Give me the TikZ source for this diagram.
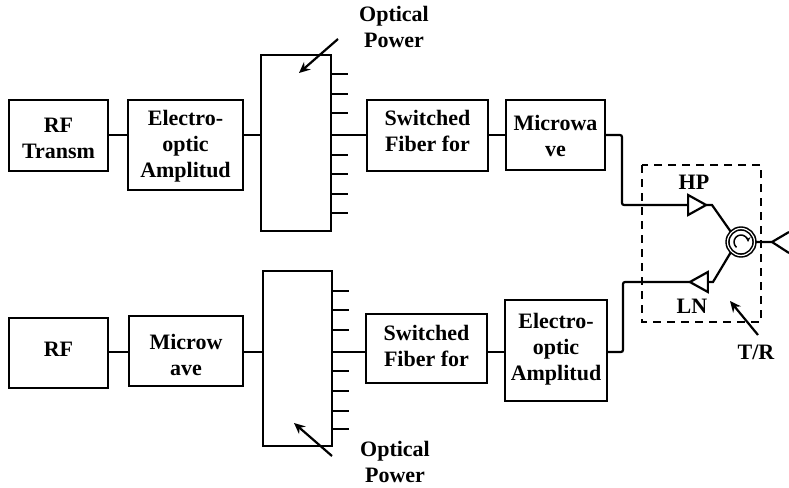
\documentclass[tikz,border=0pt]{standalone}
\usepackage{fontspec}
\setmainfont{Liberation Serif}
\usetikzlibrary{arrows.meta,positioning,shapes.geometric,calc}

\begin{document}
\begin{tikzpicture}[x=1pt,y=-1pt,line width=2.2pt,
    font=\fontsize{22}{26}\selectfont\bfseries,
    blockbox/.style={draw,inner sep=0pt},
    blocktext/.style={align=center,inner sep=0pt},
    ampbox/.style={draw,isosceles triangle,isosceles triangle stretches,inner sep=0pt,outer sep=0pt,minimum width=20pt,minimum height=18pt},
    tune/.style={-{Stealth[length=11pt,width=10pt]},line width=2.2pt}]
  \useasboundingbox (0,0) rectangle (789,487);
  \node[blockbox,minimum width=99pt,minimum height=71pt] (rftx) at (58.5,135.5) {}; \node[blocktext] (rftxtext) at (58.5,138.5) {RF\\Transm};
  \node[blockbox,minimum width=115pt,minimum height=90pt] (eotx) at (185.5,145) {}; \node[blocktext] (eotxtext) at (185.5,146.5) {Electro-\\optic\\Amplitud};
  \node[blockbox,minimum width=70pt,minimum height=176pt] (spltx) at (296,143) {};
  \node[blockbox,minimum width=121pt,minimum height=71pt] (swtx) at (427.5,135.5) {}; \node[blocktext] (swtxtext) at (427.5,131) {Switched\\Fiber for};
  \node[blockbox,minimum width=99pt,minimum height=70pt] (mwtx) at (555.5,135) {}; \node[blocktext] (mwtxtext) at (555.5,135.5) {Microwa\\ve};
  \node[blockbox,minimum width=99pt,minimum height=70pt] (rfrx) at (58.5,353) {}; \node[blocktext] (rfrxtext) at (58.5,349) {RF};
  \node[blockbox,minimum width=114pt,minimum height=70pt] (mwrx) at (186,351) {}; \node[blocktext] (mwrxtext) at (186,355) {Microw\\ave};
  \node[blockbox,minimum width=69pt,minimum height=175pt] (splrx) at (297.5,358.5) {};
  \node[blockbox,minimum width=121pt,minimum height=69pt] (swrx) at (426.5,348.5) {}; \node[blocktext] (swrxtext) at (426.5,346) {Switched\\Fiber for};
  \node[blockbox,minimum width=102pt,minimum height=101pt] (eorx) at (556,350.5) {}; \node[blocktext] (eorxtext) at (556,349.5) {Electro-\\optic\\Amplitud};

  \draw[dashed,line width=1.8pt,dash pattern=on 8pt off 6pt] (642,165) rectangle (761,322);
  \node[ampbox] (hpamp) at (694,205) {};
  \node[ampbox,shape border rotate=180] (lnamp) at (702,282) {};
  \node[draw,circle,double,double distance=1.2pt,line width=1.6pt,minimum size=27pt,inner sep=0pt] (circ) at (741,242) {};
  \draw[-{Stealth[length=5pt,width=5pt]},line width=1.5pt] ([shift={(-230:7)}]circ.center) arc (-230:0:7);

  \node (hplabel) at (694,182) {HP};
  \node (lnlabel) at (692,306) {LN};
  \node (trlabel) at (756,352) {T/R};
  \node[align=center] (optx) at (394,27) {Optical\\Power};
  \node[align=center] (oprx) at (395,462) {Optical\\Power};

  \coordinate (uprow) at (0,135);
  \coordinate (lowrow) at (0,352);
  \foreach \a/\b in {rftx/eotx,eotx/spltx,spltx/swtx,swtx/mwtx}
    \draw (\a.east |- uprow) -- (\b.west |- uprow);
  \foreach \a/\b in {rfrx/mwrx,mwrx/splrx,splrx/swrx,swrx/eorx}
    \draw (\a.east |- lowrow) -- (\b.west |- lowrow);
  \foreach \y in {74,94,113,155,174,194,213}
    \draw (spltx.east |- 0,\y) -- ++(16,0);
  \foreach \y in {291,310,330,371,391,411,429}
    \draw (splrx.east |- 0,\y) -- ++(16,0);

  \coordinate (hpbend) at (712,205);
  \coordinate (lnbend) at (713,282);
  \coordinate (antfeed) at (772,242);
  \coordinate (anttop) at (789,232);
  \coordinate (antbot) at (789,253);
  \draw[rounded corners=2pt] (mwtx.east |- uprow) -| (622,205) -- (hpamp.lower side);
  \draw[rounded corners=2pt] (eorx.east |- lowrow) -| (623,282) -- (lnamp.apex);
  \draw (hpamp.apex) -- (hpbend) -- (circ.135);
  \draw (lnamp.lower side) -- (lnbend) -- (circ.225);
  \draw (circ.east) -- (antfeed) -- (anttop);
  \draw (antfeed) -- (antbot);

  \coordinate (optxs) at (338,39);
  \coordinate (optxe) at (299,73);
  \coordinate (oprxs) at (332,456);
  \coordinate (oprxe) at (294,423);
  \coordinate (trs) at (758,335);
  \coordinate (tre) at (730,301);
  \draw[tune] (optxs) -- (optxe);
  \draw[tune] (oprxs) -- (oprxe);
  \draw[tune] (trs) -- (tre);
\end{tikzpicture}
\end{document}
